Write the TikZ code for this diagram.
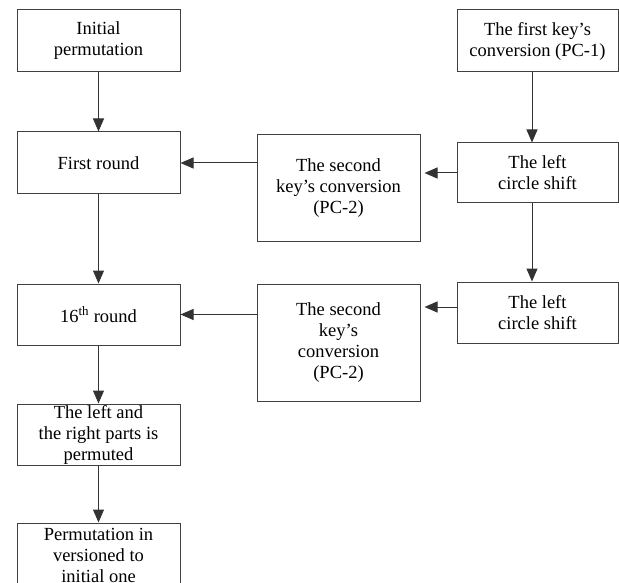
\documentclass[tikz,border=0pt]{standalone}
\usepackage{fontspec}
\setmainfont{Liberation Serif}
\usetikzlibrary{arrows.meta}
\begin{document}
\begin{tikzpicture}[x=1pt,y=-1pt,
  box/.style={draw=black!75, line width=1pt, rectangle, align=center,
    inner sep=0pt, minimum width=163pt,
    font=\fontsize{18.5}{21}\selectfont},
  conn/.style={draw=black!80, line width=1pt, -{Triangle[width=11pt,length=13pt]}}]
\useasboundingbox (0,0) rectangle (619,583);
\node[box, minimum height=62pt] (A) at (98.5,41) {Initial\\permutation};
\node[box, minimum height=62pt] (B) at (98.5,163) {First round};
\node[box, minimum height=61pt] (C) at (98.5,314.5) {16\textsuperscript{th} round};
\node[box, minimum height=61pt] (D) at (98.5,434.5) {The left and\\the right parts is\\permuted};
\node[box, minimum height=64pt] (E) at (98.5,555) {Permutation in\\versioned to\\initial one};
\node[box, minimum width=161pt, minimum height=62pt] (F) at (537.5,41) {The first key’s\\conversion (PC-1)};
\node[box, minimum width=161pt, minimum height=60pt] (G) at (537.5,173) {The left\\circle shift};
\node[box, minimum height=106pt] (H) at (338.5,188) {The second\\key’s conversion\\(PC-2)};
\node[box, minimum width=161pt, minimum height=61pt] (I) at (537.5,312.5) {The left\\circle shift};
\node[box, minimum height=117pt] (J) at (338.5,342.5) {The second\\key’s\\conversion\\(PC-2)};
\draw[conn] (A) -- (B);
\draw[conn] (B) -- (C);
\draw[conn] (C) -- (D);
\draw[conn] (D) -- (E);
\draw[conn] ([xshift=-5.5pt]F.south) -- ([xshift=-5.5pt]G.north);
\draw[conn] ([xshift=-5.5pt]G.south) -- ([xshift=-5.5pt]I.north);
\draw[conn, shorten >=4pt] (G.west) -- (G.west -| H.east);
\draw[conn] (H.west |- B) -- (B.east);
\draw[conn, shorten >=4pt] ([yshift=5.5pt]I.west) -- ([yshift=5.5pt]I.west -| J.east);
\draw[conn] (J.west |- C) -- (C.east);
\end{tikzpicture}
\end{document}
